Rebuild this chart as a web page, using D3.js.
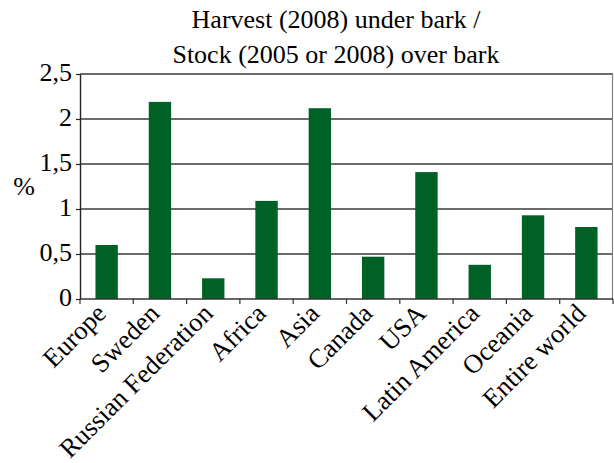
<!DOCTYPE html>
<html><head><meta charset="utf-8"><script src="https://cdn.jsdelivr.net/npm/d3@7"></script></head>
<body style="margin:0">
<svg id="chart" width="614" height="463"></svg>
<script>
// Harvest / stock ratio by region, in percent
const categories = ["Europe", "Sweden", "Russian Federation", "Africa", "Asia",
                    "Canada", "USA", "Latin America", "Oceania", "Entire world"];
const values = [0.60, 2.19, 0.23, 1.09, 2.12, 0.47, 1.41, 0.38, 0.93, 0.80];
const yTicks = [0, 0.5, 1, 1.5, 2, 2.5];
const yTickLabels = ["0", "0,5", "1", "1,5", "2", "2,5"];
const titleLines = ["Harvest (2008) under bark /", "Stock (2005 or 2008) over bark"];

const fontFamily = "Liberation Serif";
const svg = d3.select("#chart");
const plot = { left: 80, right: 613, top: 74, bottom: 299 };

const x = d3.scaleBand()
  .domain(categories)
  .range([plot.left, plot.right])
  .paddingInner(0.58)
  .paddingOuter(0.29);

const y = d3.scaleLinear()
  .domain([0, 2.5])
  .range([plot.bottom, plot.top]);

// Horizontal gridlines
svg.append("g")
  .selectAll("line")
  .data(yTicks.filter(d => d > 0))
  .join("line")
  .attr("x1", plot.left).attr("x2", plot.right)
  .attr("y1", d => y(d)).attr("y2", d => y(d))
  .attr("stroke", "#3a3a3a")
  .attr("stroke-width", 1.6);

// Right border of the plot area
svg.append("line")
  .attr("x1", plot.right - 0.5).attr("x2", plot.right - 0.5)
  .attr("y1", plot.top).attr("y2", plot.bottom)
  .attr("stroke", "#808080")
  .attr("stroke-width", 1.2);

// Bars
svg.append("g")
  .selectAll("rect")
  .data(values)
  .join("rect")
  .attr("x", (d, i) => x(categories[i]))
  .attr("width", x.bandwidth())
  .attr("y", d => y(d))
  .attr("height", d => y(0) - y(d))
  .attr("fill", "#006127");

// Y axis line and ticks
const yAxis = d3.axisLeft(y)
  .tickValues(yTicks)
  .tickFormat("")
  .tickSizeInner(4)
  .tickSizeOuter(0);
const yg = svg.append("g")
  .attr("transform", `translate(${plot.left},0)`)
  .call(yAxis);
yg.select(".domain").attr("stroke", "#222").attr("stroke-width", 1.4);
yg.selectAll(".tick line").attr("stroke", "#222").attr("stroke-width", 1.2);

// Y tick labels
svg.append("g")
  .selectAll("text")
  .data(yTicks)
  .join("text")
  .attr("x", plot.left - 8)
  .attr("y", d => y(d))
  .attr("dy", "0.25em")
  .attr("text-anchor", "end")
  .attr("font-size", 26)
  .style("font-family", fontFamily)
  .text((d, i) => yTickLabels[i]);

// X axis with ticks on band boundaries
const xg = svg.append("g")
  .attr("transform", `translate(0,${plot.bottom})`);
xg.append("line")
  .attr("x1", plot.left).attr("x2", plot.right)
  .attr("stroke", "#333").attr("stroke-width", 1.6);
const boundaries = d3.range(categories.length + 1)
  .map(i => plot.left + i * (plot.right - plot.left) / categories.length);
xg.selectAll("line.tk")
  .data(boundaries)
  .join("line")
  .attr("class", "tk")
  .attr("x1", d => d).attr("x2", d => d)
  .attr("y1", 0).attr("y2", 5)
  .attr("stroke", "#333").attr("stroke-width", 1.2);

// Rotated category labels
xg.selectAll("text.cat")
  .data(categories)
  .join("text")
  .attr("class", "cat")
  .attr("text-anchor", "end")
  .attr("font-size", 26.5)
  .style("font-family", fontFamily)
  .attr("transform", d => `translate(${x(d) + x.bandwidth() / 2 + 1},${16}) rotate(-45)`)
  .text(d => d);

// Y axis unit
svg.append("text")
  .attr("x", 24).attr("y", 195)
  .attr("text-anchor", "middle")
  .attr("font-size", 26)
  .style("font-family", fontFamily)
  .text("%");

// Title
svg.append("g")
  .selectAll("text")
  .data(titleLines)
  .join("text")
  .attr("x", 336)
  .attr("y", (d, i) => 28 + i * 35)
  .attr("text-anchor", "middle")
  .attr("font-size", 26)
  .style("font-family", fontFamily)
  .text(d => d);
</script>
</body>
</html>
